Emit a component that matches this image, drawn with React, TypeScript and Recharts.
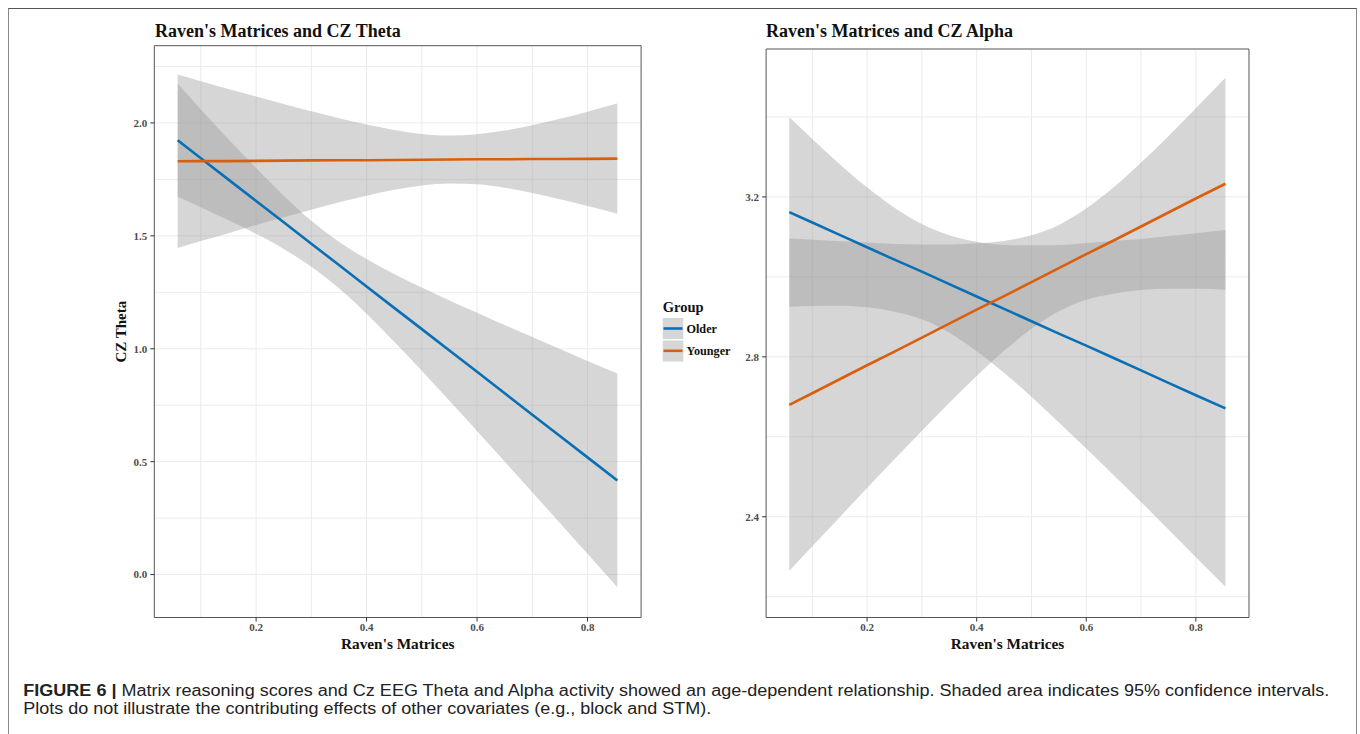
import React from 'react';
import { ComposedChart, Area, Line, XAxis, YAxis, CartesianGrid, ReferenceArea } from 'recharts';

// Raven's Matrices values where the fitted lines / 95% bands were read
const RAVEN = [0.058, 0.1, 0.15, 0.2, 0.25, 0.3, 0.35, 0.4, 0.45, 0.5, 0.55, 0.6, 0.65, 0.7, 0.75, 0.8, 0.854];

// CZ Theta panel
const THETA_OLDER_FIT = [1.923, 1.844, 1.749, 1.654, 1.56, 1.465, 1.371, 1.276, 1.181, 1.087, 0.992, 0.898, 0.803, 0.708, 0.614, 0.519, 0.417];
const THETA_OLDER_LO = [1.673, 1.627, 1.569, 1.509, 1.442, 1.363, 1.268, 1.155, 1.031, 0.903, 0.77, 0.636, 0.501, 0.365, 0.229, 0.092, -0.056];
const THETA_OLDER_HI = [2.173, 2.06, 1.928, 1.8, 1.678, 1.567, 1.474, 1.397, 1.331, 1.271, 1.214, 1.159, 1.105, 1.052, 0.999, 0.946, 0.89];
const THETA_YOUNGER_FIT = [1.83, 1.831, 1.831, 1.832, 1.833, 1.834, 1.835, 1.835, 1.836, 1.837, 1.838, 1.839, 1.839, 1.84, 1.84, 1.841, 1.842];
const THETA_YOUNGER_LO = [1.446, 1.477, 1.512, 1.548, 1.582, 1.616, 1.649, 1.678, 1.704, 1.723, 1.732, 1.728, 1.713, 1.69, 1.662, 1.632, 1.598];
const THETA_YOUNGER_HI = [2.214, 2.185, 2.15, 2.117, 2.084, 2.052, 2.021, 1.993, 1.969, 1.951, 1.944, 1.95, 1.966, 1.99, 2.018, 2.05, 2.086];

// CZ Alpha panel
const ALPHA_OLDER_FIT = [3.162, 3.136, 3.105, 3.074, 3.043, 3.013, 2.982, 2.951, 2.92, 2.889, 2.858, 2.828, 2.797, 2.766, 2.735, 2.704, 2.671];
const ALPHA_OLDER_LO = [2.925, 2.927, 2.928, 2.924, 2.913, 2.894, 2.86, 2.814, 2.76, 2.7, 2.636, 2.571, 2.504, 2.437, 2.368, 2.299, 2.225];
const ALPHA_OLDER_HI = [3.399, 3.345, 3.282, 3.224, 3.173, 3.132, 3.104, 3.088, 3.08, 3.079, 3.08, 3.085, 3.09, 3.095, 3.102, 3.109, 3.117];
const ALPHA_YOUNGER_FIT = [2.68, 2.709, 2.744, 2.779, 2.813, 2.848, 2.883, 2.918, 2.952, 2.987, 3.022, 3.057, 3.091, 3.126, 3.161, 3.196, 3.233];
const ALPHA_YOUNGER_LO = [2.264, 2.326, 2.399, 2.472, 2.544, 2.615, 2.685, 2.752, 2.815, 2.87, 2.914, 2.943, 2.958, 2.967, 2.97, 2.97, 2.968];
const ALPHA_YOUNGER_HI = [3.096, 3.093, 3.089, 3.086, 3.082, 3.081, 3.081, 3.084, 3.09, 3.104, 3.13, 3.171, 3.224, 3.286, 3.352, 3.422, 3.498];

// axes
const X_DOMAIN = [0.0157, 0.897];
const X_TICKS = [0.2, 0.4, 0.6, 0.8];
const X_GRID = [0.1, 0.2, 0.3, 0.4, 0.5, 0.6, 0.7, 0.8];
const THETA_DOMAIN = [-0.19, 2.342];
const THETA_TICKS = [0, 0.5, 1, 1.5, 2];
const THETA_GRID = [0, 0.25, 0.5, 0.75, 1, 1.25, 1.5, 1.75, 2, 2.25];
const ALPHA_DOMAIN = [2.148, 3.57];
const ALPHA_TICKS = [2.4, 2.8, 3.2];
const ALPHA_GRID = [2.2, 2.4, 2.6, 2.8, 3.0, 3.2, 3.4];

const GROUPS = ['Older', 'Younger'];
const COLORS = ['#0a6fb4', '#d95f0e'];

const SERIF = '"Liberation Serif", "Times New Roman", serif';
const SANS = '"Liberation Sans", Arial, sans-serif';

const buildRows = (fitO: number[], loO: number[], hiO: number[], fitY: number[], loY: number[], hiY: number[]) =>
  RAVEN.map((x, i) => ({
    x,
    older: fitO[i],
    olderBand: [loO[i], hiO[i]],
    younger: fitY[i],
    youngerBand: [loY[i], hiY[i]],
  }));

const thetaRows = buildRows(THETA_OLDER_FIT, THETA_OLDER_LO, THETA_OLDER_HI, THETA_YOUNGER_FIT, THETA_YOUNGER_LO, THETA_YOUNGER_HI);
const alphaRows = buildRows(ALPHA_OLDER_FIT, ALPHA_OLDER_LO, ALPHA_OLDER_HI, ALPHA_YOUNGER_FIT, ALPHA_YOUNGER_LO, ALPHA_YOUNGER_HI);

const tickStyle = { fill: '#4d4d4d', fontSize: 11, fontWeight: 'bold', fontFamily: SERIF };

interface PanelProps {
  rows: any[];
  yDomain: number[];
  yTicks: number[];
  yGrid: number[];
  margin: { top: number; right: number; bottom: number; left: number };
}

const Panel: React.FC<PanelProps> = ({ rows, yDomain, yTicks, yGrid, margin }) => (
  <ComposedChart width={560} height={640} data={rows} margin={margin}>
    <CartesianGrid stroke="#ebebeb" verticalValues={X_GRID} horizontalValues={yGrid} />
    <XAxis
      dataKey="x"
      type="number"
      domain={X_DOMAIN}
      allowDataOverflow
      ticks={X_TICKS}
      interval={0}
      tickFormatter={(v: number) => v.toFixed(1)}
      height={30}
      axisLine={false}
      tickLine={{ stroke: '#333' }}
      tickSize={4}
      tickMargin={2}
      tick={tickStyle}
    />
    <YAxis
      type="number"
      domain={yDomain}
      allowDataOverflow
      ticks={yTicks}
      interval={0}
      tickFormatter={(v: number) => v.toFixed(1)}
      width={40}
      axisLine={false}
      tickLine={{ stroke: '#333' }}
      tickSize={4}
      tickMargin={3}
      tick={tickStyle}
    />
    {/* ggplot draws ribbon then line for each group in turn */}
    <Area dataKey="olderBand" type="monotone" fill="#999999" fillOpacity={0.4} stroke="none" isAnimationActive={false} activeDot={false} />
    <Line dataKey="older" type="linear" stroke={COLORS[0]} strokeWidth={2.6} dot={false} activeDot={false} isAnimationActive={false} />
    <Area dataKey="youngerBand" type="monotone" fill="#999999" fillOpacity={0.4} stroke="none" isAnimationActive={false} activeDot={false} />
    <Line dataKey="younger" type="linear" stroke={COLORS[1]} strokeWidth={2.6} dot={false} activeDot={false} isAnimationActive={false} />
    <ReferenceArea x1={X_DOMAIN[0]} x2={X_DOMAIN[1]} y1={yDomain[0]} y2={yDomain[1]} fill="none" stroke="#555" strokeWidth={1} ifOverflow="visible" />
  </ComposedChart>
);

export default function App() {
  return (
    <div style={{ position: 'relative', width: 1360, height: 734, overflow: 'hidden', background: '#fff' }}>
      <style>{'body{margin:0;overflow:hidden;}'}</style>

      {/* figure frame */}
      <div style={{ position: 'absolute', left: 8, top: 8, width: 1349, height: 740, borderTop: '1px solid #555', borderLeft: '1px solid #888', borderRight: '1px solid #888', boxSizing: 'border-box' }} />

      <div style={{ position: 'absolute', left: 100, top: 20 }}>
        <Panel rows={thetaRows} yDomain={THETA_DOMAIN} yTicks={THETA_TICKS} yGrid={THETA_GRID} margin={{ top: 25.7, right: 18.9, bottom: 12.5, left: 14.3 }} />
      </div>
      <div style={{ position: 'absolute', left: 700, top: 20 }}>
        <Panel rows={alphaRows} yDomain={ALPHA_DOMAIN} yTicks={ALPHA_TICKS} yGrid={ALPHA_GRID} margin={{ top: 29, right: 11, bottom: 12.5, left: 26.1 }} />
      </div>

      <svg width={1360} height={734} style={{ position: 'absolute', left: 0, top: 0, pointerEvents: 'none' }}>
        <g fontFamily={SERIF} fontWeight="bold" fill="#111">
          <text x={155} y={37} fontSize={18}>Raven's Matrices and CZ Theta</text>
          <text x={766} y={37} fontSize={18}>Raven's Matrices and CZ Alpha</text>
          <text x={397.7} y={649} fontSize={15.3} textAnchor="middle">Raven's Matrices</text>
          <text x={1007.5} y={649} fontSize={15.3} textAnchor="middle">Raven's Matrices</text>
          <text transform="translate(125.5,331.7) rotate(-90)" fontSize={15} textAnchor="middle">CZ Theta</text>

          {/* legend */}
          <text x={662.7} y={312} fontSize={14.5}>Group</text>
          {GROUPS.map((g, i) => (
            <g key={g}>
              <rect x={662.7} y={318 + i * 22.5} width={20.6} height={21} fill="#d6d6d6" />
              <line x1={663.5} x2={682.5} y1={328.5 + i * 22.3} y2={328.5 + i * 22.3} stroke={COLORS[i]} strokeWidth={2.6} />
              <text x={686.5} y={332.5 + i * 22.2} fontSize={12.2}>{g}</text>
            </g>
          ))}
        </g>

        <g fontFamily={SANS} fontSize={16} fill="#222">
          <text x={23.3} y={696} textLength={1306} lengthAdjust="spacingAndGlyphs">
            <tspan fontWeight="bold">FIGURE 6 | </tspan>
            <tspan>Matrix reasoning scores and Cz EEG Theta and Alpha activity showed an age-dependent relationship. Shaded area indicates 95% confidence intervals.</tspan>
          </text>
          <text x={23.3} y={714} textLength={688} lengthAdjust="spacingAndGlyphs">
            Plots do not illustrate the contributing effects of other covariates (e.g., block and STM).
          </text>
        </g>
      </svg>
    </div>
  );
}
